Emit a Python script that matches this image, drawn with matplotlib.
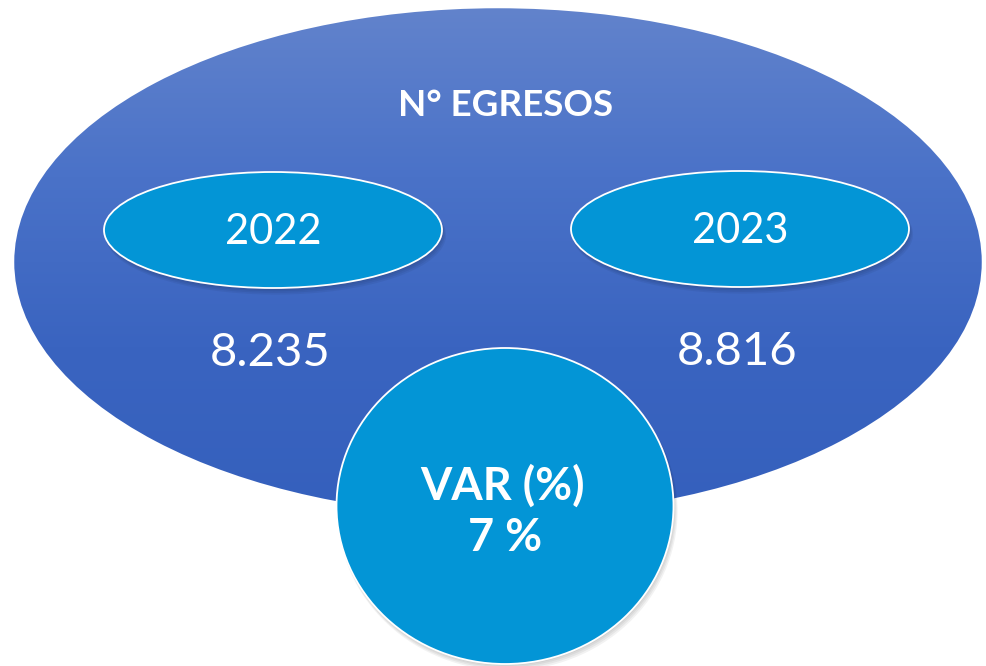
import matplotlib
matplotlib.use("Agg")
import matplotlib.pyplot as plt
import numpy as np
from matplotlib.patches import Ellipse
from matplotlib.colors import LinearSegmentedColormap

title = "N° EGRESOS"
years = ["2022", "2023"]
values = [8235, 8816]
var_label = "VAR (%)"
var_value = 7

def fmt(v):
    return f"{v:,}".replace(",", ".")

plt.rcParams['font.family'] = ['Lato', 'DejaVu Sans']

W, H = 987, 666
fig = plt.figure(figsize=(W / 100, H / 100), dpi=100)
ax = fig.add_axes([0, 0, 1, 1])
ax.set_xlim(0, W)
ax.set_ylim(H, 0)
ax.set_aspect('auto')
ax.axis('off')

# Big ellipse with vertical gradient
big_c, big_w, big_h = (498, 262), 970, 510
grad = LinearSegmentedColormap.from_list("g", ["#6283cc", "#4a72c8", "#3a64c0", "#3560bd"])
img = np.linspace(0, 1, 256).reshape(-1, 1)
big = Ellipse(big_c, big_w, big_h, facecolor='none', edgecolor='none')
ax.add_patch(big)
im = ax.imshow(img, cmap=grad, extent=(big_c[0] - big_w / 2, big_c[0] + big_w / 2,
                                        big_c[1] + big_h / 2, big_c[1] - big_h / 2),
               aspect='auto', zorder=1)
im.set_clip_path(big)
ax.add_patch(Ellipse(big_c, big_w, big_h, facecolor='none', edgecolor='white', lw=1.8, zorder=2))
ax.set_xlim(0, W)
ax.set_ylim(H, 0)

def shadowed(center, w, h, color, z):
    for i, a in enumerate([0.05, 0.05, 0.05, 0.05]):
        d = 1.5 + i * 1.2
        ax.add_patch(Ellipse((center[0] + d * 0.5, center[1] + d), w + i, h + i,
                             facecolor='black', edgecolor='none', alpha=a, zorder=z))
    ax.add_patch(Ellipse(center, w, h, facecolor=color, edgecolor='white', lw=1.3, zorder=z + 1))

small_centers = [(273, 230), (740, 229)]
for (cx, cy), yr, v in zip(small_centers, years, values):
    shadowed((cx, cy), 338, 116, '#0395d6', 3)
    ax.text(cx, cy + 2, yr, color='white', fontsize=30, ha='center', va='center', zorder=6)
    ax.text(cx - 3, cy + 123, fmt(v), color='white', fontsize=34, ha='center', va='center', zorder=6)

ax.text(506, 106, title, color='white', fontsize=26.5, fontweight='bold', ha='center', va='center', zorder=6)

# VAR circle
shadowed((505, 506), 337, 316, '#0395d6', 7)
ax.text(503, 486, var_label, color='white', fontsize=32.5, fontweight='bold', ha='center', va='center', zorder=10)
ax.text(505, 538, f"{var_value} %", color='white', fontsize=32.5, fontweight='bold', ha='center', va='center', zorder=10)

fig.savefig("out.png", dpi=100, facecolor='white')
